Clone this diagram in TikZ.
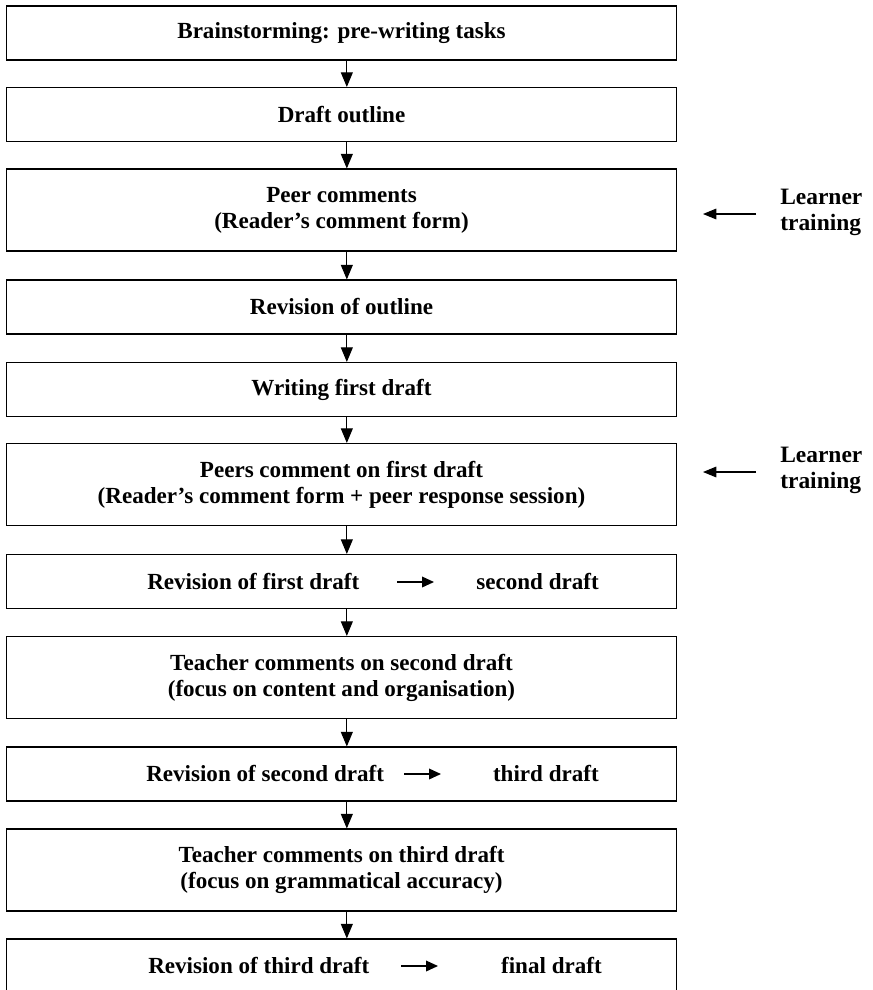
\documentclass[tikz,border=0pt]{standalone}
\usepackage{fontspec}
\setmainfont{Liberation Serif}
\usetikzlibrary{arrows.meta}
\tikzset{
  stage/.style={draw, line width=0.8pt, minimum width=503pt, inner sep=0pt, align=center,
    font=\fontsize{17.3}{19.5}\selectfont\bfseries},
  single/.style={stage, minimum height=40.5pt},
  double/.style={stage, minimum height=61.5pt},
  intext/.style={inner sep=0pt, font=\fontsize{17.3}{19.5}\selectfont\bfseries},
  flow/.style={-{Triangle[length=11pt,width=9pt]}, line width=0.8pt},
  inflow/.style={-{Triangle[length=9pt,width=8pt]}, line width=1.1pt},
  side/.style={-{Triangle[length=10pt,width=8pt]}, line width=0.8pt},
  training/.style={align=left, inner sep=0pt, font=\fontsize{17.6}{19.5}\selectfont\bfseries}
}
\begin{document}
\begin{tikzpicture}[x=0.75pt, y=-0.75pt]
    \clip (0,0) rectangle (873,990);
    \node[single] (b1) at (341.5,33) {Brainstorming: pre-writing tasks};
    \node[single] (b2) at (341.5,114.5) {Draft outline};
    \node[double] (b3) at (341.5,210) {Peer comments\\(Reader's comment form)};
    \node[single] (b4) at (341.5,307) {Revision of outline};
    \node[single] (b5) at (341.5,389.5) {Writing first draft};
    \node[double] (b6) at (341.5,484.5) {Peers comment on first draft\\(Reader's comment form + peer response session)};
    \node[single] (b7) at (341.5,581.5) {};
    \node[double] (b8) at (341.5,677.5) {Teacher comments on second draft\\(focus on content and organisation)};
    \node[single] (b9) at (341.5,774) {};
    \node[double] (b10) at (341.5,870) {Teacher comments on third draft\\(focus on grammatical accuracy)};
    \node[single] (b11) at (341.5,966) {};

    \node[intext, anchor=base west] (b7l) at (147,589) {Revision of first draft};
    \node[intext, anchor=base east] (b7r) at (599,589) {second draft};
    \coordinate (b7a) at (397,582);
    \coordinate (b7b) at (434,582);
    \draw[inflow] (b7a) -- (b7b);

    \node[intext, anchor=base west] (b9l) at (146,781) {Revision of second draft};
    \node[intext, anchor=base east] (b9r) at (599,781) {third draft};
    \coordinate (b9a) at (404,774);
    \coordinate (b9b) at (441,774);
    \draw[inflow] (b9a) -- (b9b);

    \node[intext, anchor=base west] (b11l) at (148,973) {Revision of third draft};
    \node[intext, anchor=base east] (b11r) at (602,973) {final draft};
    \coordinate (b11a) at (401,966);
    \coordinate (b11b) at (438,966);
    \draw[inflow] (b11a) -- (b11b);

    \foreach \a/\b in {b1/b2,b2/b3,b3/b4,b4/b5,b5/b6,b6/b7,b7/b8,b8/b9,b9/b10,b10/b11}
        \draw[flow] ([xshift=4pt]\a.south) -- ([xshift=4pt]\b.north);

    \node[training, anchor=west] (lt1) at (780,212) {Learner\\training};
    \coordinate (tip1) at (703,214);
    \draw[side] ([xshift=-18pt]lt1.west |- tip1) -- (tip1);
    \node[training, anchor=west] (lt2) at (780,470) {Learner\\training};
    \coordinate (tip2) at (703,472);
    \draw[side] ([xshift=-18pt]lt2.west |- tip2) -- (tip2);
\end{tikzpicture}
\end{document}
